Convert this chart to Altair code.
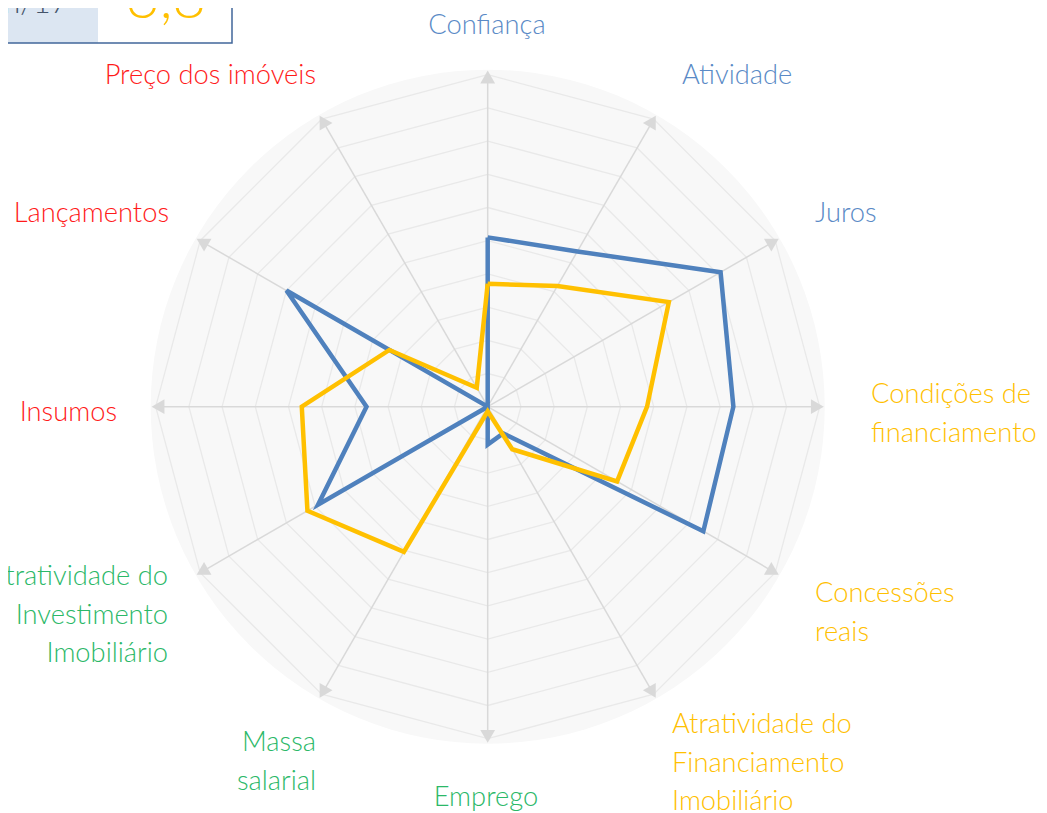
import math
import altair as alt
import pandas as pd

# ---------------- data ----------------
categories = [
    "Confiança", "Atividade", "Juros", "Condições de financiamento",
    "Concessões reais", "Atratividade do Financiamento Imobiliário",
    "Emprego", "Massa salarial", "Atratividade do Investimento Imobiliário",
    "Insumos", "Lançamentos", "Preço dos imóveis",
]
serie_azul = [5.1, 5.4, 8.1, 7.4, 7.5, 0.93, 1.14, 0.0, 5.9, 3.65, 7.0, 0.0]
serie_amarela = [3.7, 4.2, 6.3, 4.8, 4.5, 1.48, 0.14, 5.05, 6.27, 5.6, 3.42, 0.66]
series_names = ["Série 1", "Série 2"]
label_lines = [
    ["Confiança"], ["Atividade"], ["Juros"], ["Condições de", "financiamento"],
    ["Concessões", "reais"], ["Atratividade do", "Financiamento", "Imobiliário"],
    ["Emprego"], ["Massa", "salarial"], ["Atratividade do", "Investimento", "Imobiliário"],
    ["Insumos"], ["Lançamentos"], ["Preço dos imóveis"],
]
label_groups = ["mercado", "mercado", "mercado", "credito", "credito", "credito",
                "renda", "renda", "renda", "custo", "custo", "custo"]
ring_levels = [1, 2, 3, 4, 5, 6, 7, 8, 9, 10]
box_label = "Jun/17"
box_value = "3,8"

# ---------------- layout / style ----------------
W, H = 1031, 805
K = 33.2                # px per unit
CX, CY = 479.7, 398.7   # centre in plot pixels
group_colors = {"mercado": "#5a8ac6", "credito": "#ffc000", "renda": "#2bb868", "custo": "#ff1a1a"}
series_colors = ["#4f81bd", "#ffc000"]
FONT = "Lato"
FSIZE = 27.3
# label anchors in page pixels: (align, x, y of first line centre)
label_pos = [
    ("center", 487, 26), ("left", 682, 76), ("left", 815, 214), ("left", 871, 395),
    ("left", 815, 594), ("left", 672, 725), ("center", 486, 798), ("right", 316, 743),
    ("right", 168, 577), ("right", 117, 413), ("right", 169, 214), ("right", 316, 76),
]
LINE_H = 38.5

n = len(categories)
angles = [math.radians(90 - 30 * i) for i in range(n)]

xs = alt.Scale(domain=[-CX / K, (W - CX) / K], nice=False, zero=False)
ys = alt.Scale(domain=[-(H - CY) / K, CY / K], nice=False, zero=False)


def X(f):
    return alt.X(f"{f}:Q", scale=xs, axis=None)


def Y(f):
    return alt.Y(f"{f}:Q", scale=ys, axis=None)


# background disc
bg = alt.Chart(pd.DataFrame({"a": [0]})).mark_arc(
    radius=337, theta=0, theta2=2 * math.pi, color="#f8f8f8"
).encode(x=alt.value(CX), y=alt.value(CY))

# rings
ring_rows = []
for lv in ring_levels:
    for j in range(n + 1):
        a = angles[j % n]
        ring_rows.append({"ring": lv, "o": j, "x": lv * math.cos(a), "y": lv * math.sin(a)})
rings = alt.Chart(pd.DataFrame(ring_rows)).mark_line(
    color="#e9e9e9", strokeWidth=1.3
).encode(x=X("x"), y=Y("y"), detail="ring:N", order="o:Q")

# spokes
spoke_rows = [{"x": 0.0, "y": 0.0, "x2": 9.9 * math.cos(a), "y2": 9.9 * math.sin(a)} for a in angles]
spokes = alt.Chart(pd.DataFrame(spoke_rows)).mark_rule(
    color="#d9d9d9", strokeWidth=1.5
).encode(x=X("x"), y=Y("y"), x2="x2:Q", y2="y2:Q")

# arrow heads
arrow_rows = []
for i, a in enumerate(angles):
    arrow_rows.append({"x": 9.93 * math.cos(a), "y": 9.93 * math.sin(a),
                       "ang": (30 * i) % 360})
arrows = alt.Chart(pd.DataFrame(arrow_rows)).mark_point(
    shape="triangle-up", filled=True, color="#d9d9d9", size=220, opacity=1
).encode(x=X("x"), y=Y("y"), angle=alt.Angle("ang:Q", scale=None))

# series lines
line_rows = []
for s, vals in zip(series_names, [serie_azul, serie_amarela]):
    for j in range(n + 1):
        v = vals[j % n]
        a = angles[j % n]
        line_rows.append({"serie": s, "o": j, "cat": categories[j % n], "v": v,
                          "x": v * math.cos(a), "y": v * math.sin(a)})
ldf = pd.DataFrame(line_rows)
lines = alt.Chart(ldf).mark_line(strokeWidth=4.5).encode(
    x=X("x"), y=Y("y"), order="o:Q",
    color=alt.Color("serie:N", scale=alt.Scale(domain=series_names, range=series_colors), legend=None),
)

# category labels
lab_rows = []
for i, lines_txt in enumerate(label_lines):
    al, px, py = label_pos[i]
    for k, t in enumerate(lines_txt):
        yy = py + k * LINE_H
        lab_rows.append({"t": t, "al": al, "g": label_groups[i],
                         "x": (px - 8 - CX) / K, "y": (CY - (yy - 8)) / K})
labdf = pd.DataFrame(lab_rows)
label_layers = []
for al in ["left", "center", "right"]:
    for g, col in group_colors.items():
        sub = labdf[(labdf["al"] == al) & (labdf["g"] == g)]
        if len(sub) == 0:
            continue
        label_layers.append(
            alt.Chart(sub).mark_text(align=al, baseline="middle", font=FONT, fontSize=FSIZE,
                                     fontWeight=300, color=col).encode(
                x=X("x"), y=Y("y"), text="t:N")
        )

# top-left box
one = pd.DataFrame({"a": [0]})
box_left = alt.Chart(one).mark_rect(color="#dce6f2").encode(
    x=alt.value(0), x2=alt.value(90), y=alt.value(-30), y2=alt.value(35))
box_right = alt.Chart(one).mark_rect(color="white").encode(
    x=alt.value(90), x2=alt.value(224), y=alt.value(-30), y2=alt.value(35))
box_border = alt.Chart(one).mark_rect(fill=None, stroke="#41679a", strokeWidth=1.5).encode(
    x=alt.value(-10), x2=alt.value(224), y=alt.value(-30), y2=alt.value(35))
box_t1 = alt.Chart(one).mark_text(align="right", baseline="alphabetic", font=FONT, fontSize=30,
                                  fontWeight=300, color="#44546a", text=box_label).encode(
    x=alt.value(60), y=alt.value(5))
box_t2 = alt.Chart(one).mark_text(align="center", baseline="alphabetic", font=FONT, fontSize=58,
                                  fontWeight=300, color="#ffc000", text=box_value).encode(
    x=alt.value(158), y=alt.value(10))

chart = alt.layer(
    bg, rings, spokes, arrows, lines, *label_layers,
    box_left, box_right, box_border, box_t1, box_t2,
).properties(
    width=W, height=H, padding=0, autosize=alt.AutoSizeParams(type="none"), background="white"
).configure_view(stroke=None)

chart.save("out.html", embed_options={"renderer": "svg", "actions": False})
